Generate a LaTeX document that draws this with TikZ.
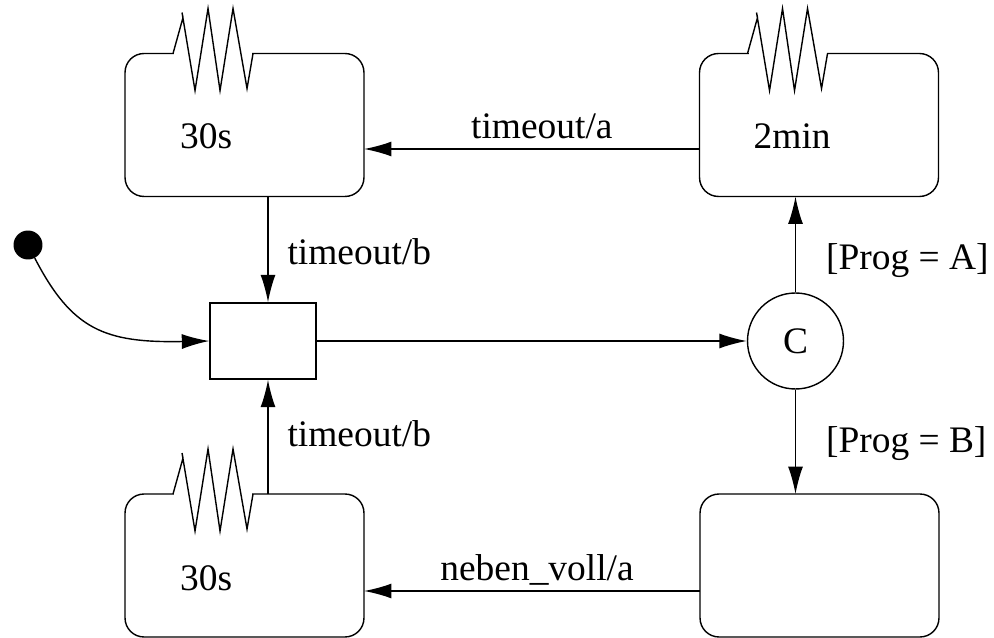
\documentclass[tikz,border=0pt]{standalone}
\usepackage{fontspec}
\setmainfont{Liberation Serif}
\usepackage{tikz}
\usetikzlibrary{arrows.meta,calc}

\tikzset{
  zustand/.style={draw, line width=0.8pt, outer sep=0pt, rounded corners=0.38cm,
    minimum width=4.78cm, minimum height=2.86cm},
  pfeil/.style={line width=0.8pt, -{Latex[length=0.55cm,width=0.3cm]}},
  schrift/.style={font=\fontsize{21.3}{25}\selectfont},
}
\newcommand{\heizung}[1]{%
  \draw[white, line width=2pt] ($(#1.north west)+(49,0)$) -- ++(78,0);
  \draw[line width=0.8pt] (#1.north west) ++(48,0) -- ++(10,-36) -- ++(-1,-5)
    -- ++(13,78) -- ++(13,-82) -- ++(12,82) -- ++(13,-82) -- ++(14,80) -- ++(6,-35);
}

\begin{document}
\begin{tikzpicture}[x=0.02cm,y=-0.02cm]
  \useasboundingbox (0,0) rectangle (994,638);
  % Zustaende
  \node[zustand] (tl) at (244.5,125) {};
  \node[zustand] (tr) at (819,125) {};
  \node[zustand] (bl) at (244.5,565.5) {};
  \node[zustand] (br) at (819.5,565.5) {};
  \heizung{tl}
  \heizung{tr}
  \heizung{bl}
  \node[schrift, anchor=base west] (ztl) at ($(tl.north west)+(49,95)$) {30s};
  \node[schrift, anchor=base west] (ztr) at ($(tr.north west)+(48,95)$) {2min};
  \node[schrift, anchor=base west] (zbl) at ($(bl.north west)+(49,96)$) {30s};
  % Start, Kasten, Auswahl
  \node[circle, fill=black, minimum size=0.58cm, inner sep=0pt] (start) at (28,245) {};
  \node[draw, line width=0.8pt, minimum width=2.12cm, minimum height=1.52cm] (klein) at (263,341) {};
  \node[draw, circle, line width=0.8pt, minimum size=1.92cm, inner sep=0pt, schrift] (kreis) at (795.5,341) {C};
  \coordinate (mitte) at (268,0);
  % Uebergaenge
  \draw[pfeil] (start) .. controls (72,330) and (105,343) .. (klein.west);
  \draw[pfeil] (klein.east) -- (kreis.west);
  \draw[pfeil] ($(tr.west)+(0,24)$) -- node[schrift, pos=.47, anchor=base, yshift=0.2cm] (la) {timeout/a} ($(tl.east)+(0,24)$);
  \draw[pfeil] ($(br.west)+(0,25.5)$) -- node[schrift, pos=.485, anchor=base, yshift=0.22cm] (lb) {neben\_voll/a} ($(bl.east)+(0,25.5)$);
  \draw[pfeil] (tl.south -| mitte) -- node[schrift, pos=.64, anchor=base west, xshift=0.26cm] (lc) {timeout/b} (klein.north -| mitte);
  \draw[pfeil] (bl.north -| mitte) -- node[schrift, pos=.42, anchor=base west, xshift=0.26cm] (ld) {timeout/b} (klein.south -| mitte);
  \draw[pfeil] (kreis.north) -- node[schrift, pos=.24, anchor=base west, xshift=0.48cm] (le) {[Prog = A]} (tr.south -| kreis.north);
  \draw[pfeil] (kreis.south) -- node[schrift, pos=.6, anchor=base west, xshift=0.48cm] (lf) {[Prog = B]} (br.north -| kreis.south);
\end{tikzpicture}
\end{document}
